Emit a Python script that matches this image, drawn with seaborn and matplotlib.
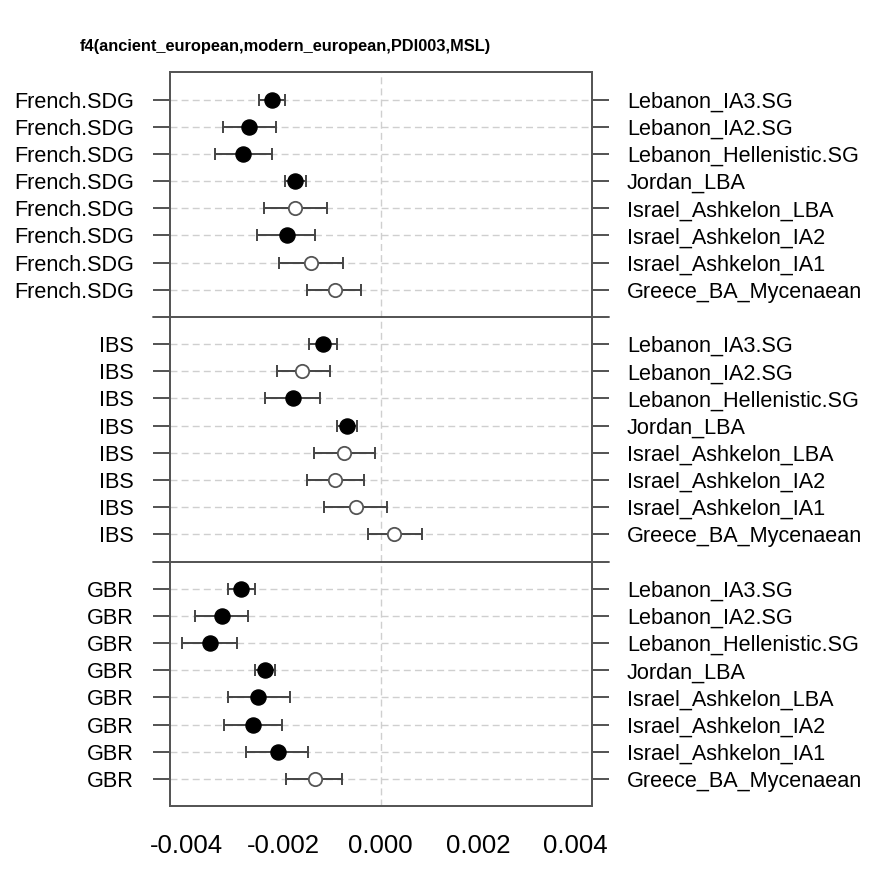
import numpy as np
import pandas as pd
import matplotlib
matplotlib.use("Agg")
import matplotlib.pyplot as plt
import seaborn as sns

# f4 estimates (x 1e-3), rows top to bottom in each panel
populations = ["Lebanon_IA3.SG", "Lebanon_IA2.SG", "Lebanon_Hellenistic.SG", "Jordan_LBA",
               "Israel_Ashkelon_LBA", "Israel_Ashkelon_IA2", "Israel_Ashkelon_IA1",
               "Greece_BA_Mycenaean"]
outgroups = ["French.SDG", "IBS", "GBR"]

french_est = [-2.24, -2.70, -2.82, -1.77, -1.77, -1.93, -1.43, -0.95]
french_lo = [-2.51, -3.25, -3.40, -1.97, -2.39, -2.55, -2.10, -1.51]
french_hi = [-1.96, -2.16, -2.24, -1.53, -1.10, -1.36, -0.78, -0.40]
french_sig = [1, 1, 1, 1, 0, 1, 0, 0]

ibs_est = [-1.18, -1.62, -1.81, -0.70, -0.75, -0.93, -0.50, 0.28]
ibs_lo = [-1.47, -2.14, -2.38, -0.90, -1.38, -1.51, -1.16, -0.27]
ibs_hi = [-0.90, -1.05, -1.25, -0.49, -0.12, -0.35, 0.13, 0.84]
ibs_sig = [1, 0, 1, 1, 0, 0, 0, 0]

gbr_est = [-2.87, -3.27, -3.50, -2.38, -2.52, -2.62, -2.11, -1.36]
gbr_lo = [-3.14, -3.81, -4.08, -2.59, -3.14, -3.21, -2.77, -1.94]
gbr_hi = [-2.59, -2.72, -2.95, -2.18, -1.86, -2.03, -1.49, -0.80]
gbr_sig = [1, 1, 1, 1, 1, 1, 1, 0]

x_ticks = [-0.004, -0.002, 0.000, 0.002, 0.004]
x_ticklabels = ["-0.004", "-0.002", "0.000", "0.002", "0.004"]
title = "f4(ancient_european,modern_european,PDI003,MSL)"

# build long table
rows = []
panels = [(french_est, french_lo, french_hi, french_sig),
          (ibs_est, ibs_lo, ibs_hi, ibs_sig),
          (gbr_est, gbr_lo, gbr_hi, gbr_sig)]
for k, (est, lo, hi, sig) in enumerate(panels):
    for i, pop in enumerate(populations):
        rows.append({"outgroup": outgroups[k], "pop": pop,
                     "est": est[i] * 1e-3, "lo": lo[i] * 1e-3, "hi": hi[i] * 1e-3,
                     "sig": bool(sig[i]), "y": 26 - 9 * k - i})
df = pd.DataFrame(rows)

sns.set_style("white")
plt.rcParams["font.family"] = ["Liberation Sans", "DejaVu Sans"]
plt.rcParams["text.color"] = "black"
plt.rcParams["xtick.labelcolor"] = "black"
plt.rcParams["ytick.labelcolor"] = "black"

fig = plt.figure(figsize=(8.69, 8.73), dpi=100)
ax = fig.add_axes([0.1956, 0.0767, 0.4851, 0.8403])

edge = "#444444"
ax.yaxis.grid(True, color="#cfcfcf", linestyle=(0, (5, 3)), linewidth=1.0)
ax.xaxis.grid(False)
ax.axvline(0, color="#cfcfcf", linestyle=(0, (5, 3)), linewidth=1.0, zorder=0)

ax.errorbar(df["est"], df["y"], xerr=[df["est"] - df["lo"], df["hi"] - df["est"]],
            fmt="none", ecolor=edge, elinewidth=1.4, capsize=4.6, capthick=1.4, zorder=2)

sns.scatterplot(data=df[df["sig"]], x="est", y="y", ax=ax, color="black",
                edgecolor="black", s=118, linewidth=1.0, zorder=3, legend=False)
sns.scatterplot(data=df[~df["sig"]], x="est", y="y", ax=ax, color="white",
                edgecolor="#555555", s=92, linewidth=1.3, zorder=3, legend=False)

# separators between outgroups, extended over the tick marks
for ysep in [9, 18]:
    ax.plot([-0.041, 1.041], [ysep, ysep], transform=ax.get_yaxis_transform(),
            color=edge, linewidth=1.3, clip_on=False, zorder=4)

ax.set_xlim(-0.00433, 0.00433)
ax.set_ylim(0, 27)
ax.set_xticks(x_ticks)
ax.set_xticklabels(x_ticklabels, fontsize=18.5)
ax.set_yticks(df["y"])
ax.set_yticklabels(df["outgroup"], fontsize=15.6)
ax.set_xlabel("")
ax.set_ylabel("")
ax.tick_params(axis="x", length=13, width=1.3, color=edge, pad=7)
ax.tick_params(axis="y", length=12.5, width=1.3, color=edge, pad=13.5)

ax2 = ax.twinx()
ax2.set_ylim(ax.get_ylim())
ax2.set_yticks(df["y"])
ax2.set_yticklabels(df["pop"], fontsize=15.6)
ax2.tick_params(axis="y", length=12.5, width=1.3, color=edge, pad=13)
ax2.grid(False)

for a in (ax, ax2):
    for sp in a.spines.values():
        sp.set_color("#555555")
        sp.set_linewidth(1.3)

fig.text(0.092, 1 - 47 / 873, title, fontsize=11.8, fontweight="bold", va="center", ha="left")

fig.savefig("out.png", dpi=100)
plt.close(fig)
